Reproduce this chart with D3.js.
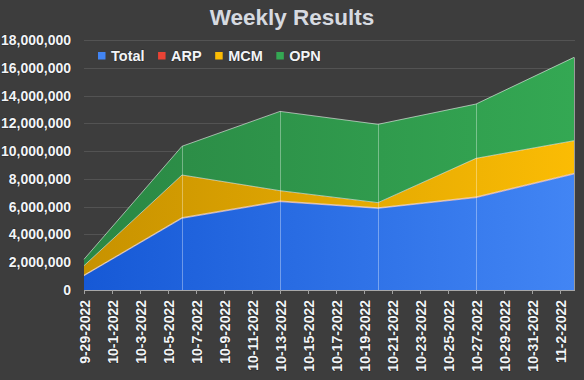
<!DOCTYPE html>
<html><head><meta charset="utf-8">
<script src="https://cdn.jsdelivr.net/npm/d3@7"></script>
<style>
html,body{margin:0;padding:0;background:#3d3d3d;}
svg{display:block;font-family:"Liberation Sans",Arial,sans-serif;}
</style></head>
<body><svg id="chart" width="584" height="380"></svg>
<script>
const dates = ["2022-09-29","2022-10-06","2022-10-13","2022-10-20","2022-10-27","2022-11-03"];
const seriesNames = ["Total","ARP","MCM","OPN"];
const totalValues = [1030000, 5160000, 6360000, 5880000, 6650000, 8350000];
const arpValues   = [40000, 50000, 50000, 40000, 50000, 50000];
const mcmValues   = [680000, 3070000, 740000, 370000, 2780000, 2350000];
const opnValues   = [460000, 2070000, 5710000, 5640000, 3910000, 6000000];
const yTicks = [0,2000000,4000000,6000000,8000000,10000000,12000000,14000000,16000000,18000000];
const tickDates = ["2022-09-29","2022-10-01","2022-10-03","2022-10-05","2022-10-07","2022-10-09","2022-10-11","2022-10-13","2022-10-15","2022-10-17","2022-10-19","2022-10-21","2022-10-23","2022-10-25","2022-10-27","2022-10-29","2022-10-31","2022-11-02"];
const colorsDark  = ["#1659d6","#c9362b","#c79200","#2a8744"];
const colorsLight = ["#4285f4","#ea4335","#fbbc04","#34a853"];

const parse = d3.utcParse("%Y-%m-%d");
const rows = dates.map((d,i)=>({date:parse(d), Total:totalValues[i], ARP:arpValues[i], MCM:mcmValues[i], OPN:opnValues[i]}));

const svg = d3.select("#chart");
const L = 84, R = 574, T = 40, B = 290;
const x = d3.scaleUtc().domain([parse(dates[0]), parse(dates[dates.length-1])]).range([L,R]);
const y = d3.scaleLinear().domain([0,18000000]).range([B,T]);

svg.append("rect").attr("width",584).attr("height",380).attr("fill","#3d3d3d");

const defs = svg.append("defs");
seriesNames.forEach((s,i)=>{
  const g = defs.append("linearGradient").attr("id","g"+i).attr("gradientUnits","userSpaceOnUse")
    .attr("x1",L).attr("x2",R).attr("y1",0).attr("y2",0);
  g.append("stop").attr("offset","0%").attr("stop-color",colorsDark[i]);
  g.append("stop").attr("offset","100%").attr("stop-color",colorsLight[i]);
});

// title
svg.append("text").attr("x",292).attr("y",25).attr("text-anchor","middle")
  .attr("font-size",22.5).attr("font-weight","bold").attr("fill","#d6dae0")
  .text("Weekly Results");

// grid
svg.append("g").selectAll("line").data(yTicks.slice(1)).join("line")
  .attr("x1",L).attr("x2",R+1).attr("y1",d=>Math.round(y(d))+0.5).attr("y2",d=>Math.round(y(d))+0.5)
  .attr("stroke","#535353").attr("stroke-width",1);

// stack
const stack = d3.stack().keys(seriesNames);
const layers = stack(rows);
const area = d3.area().x(d=>x(d.data.date)).y0(d=>y(d[0])).y1(d=>y(d[1]));
const line = d3.line().x(d=>x(d.data.date)).y(d=>y(d[1]));
svg.append("g").selectAll("path").data(layers).join("path")
  .attr("d",area).attr("fill",(d,i)=>`url(#g${i})`);
svg.append("g").selectAll("path").data(layers).join("path")
  .attr("d",line).attr("fill","none").attr("stroke","rgba(255,255,255,0.55)").attr("stroke-width",1);

// vertical lines at data points
const topLayer = layers[layers.length-1];
svg.append("g").selectAll("line").data(topLayer.slice(1,-1)).join("line")
  .attr("x1",d=>Math.round(x(d.data.date))+0.5).attr("x2",d=>Math.round(x(d.data.date))+0.5)
  .attr("y1",d=>y(d[1])).attr("y2",B)
  .attr("stroke","rgba(255,255,255,0.35)");
const lastPt = topLayer[topLayer.length-1];
svg.append("line").attr("x1",R+0.5).attr("x2",R+0.5).attr("y1",y(lastPt[1])).attr("y2",B)
  .attr("stroke","#9a9a9a");

// y axis
const yAxis = svg.append("g").attr("transform",`translate(${L-13},0)`)
  .call(d3.axisLeft(y).tickValues(yTicks).tickSize(0).tickFormat(d3.format(",")));
yAxis.select(".domain").remove();
yAxis.selectAll("text").attr("x",0).attr("font-size",14).attr("font-weight","bold")
  .attr("fill","#f2f4f7").attr("font-family","'Liberation Sans',Arial,sans-serif")
  .attr("stroke","rgba(0,0,0,0.35)").attr("stroke-width",1.2).attr("paint-order","stroke");

// x axis
const fmt = d => `${d.getUTCMonth()+1}-${d.getUTCDate()}-${d.getUTCFullYear()}`;
const xAxis = svg.append("g").attr("transform",`translate(0,${B})`)
  .call(d3.axisBottom(x).tickValues(tickDates.map(parse)).tickSize(4).tickSizeOuter(0).tickFormat(fmt));
xAxis.select(".domain").attr("stroke","#a8a8a8").attr("d",`M${L},0.5H${R+1}`);
xAxis.selectAll(".tick line").attr("stroke","#a0a0a0");
xAxis.selectAll("text").attr("font-size",14).attr("font-weight","bold").attr("fill","#f2f4f7")
  .attr("font-family","'Liberation Sans',Arial,sans-serif")
  .attr("transform","rotate(-90)").attr("text-anchor","end").attr("dy","0.36em").attr("x",-10).attr("y",0)
  .attr("stroke","rgba(0,0,0,0.35)").attr("stroke-width",1.2).attr("paint-order","stroke");

// legend
const lg = svg.append("g");
let lx = 98;
seriesNames.forEach((s,i)=>{
  lg.append("rect").attr("x",lx).attr("y",52).attr("width",7.5).attr("height",7.5).attr("fill",colorsLight[i]);
  const t = lg.append("text").attr("x",lx+13).attr("y",60.5).attr("font-size",14.5).attr("font-weight","bold")
    .attr("fill","#f2f4f7").attr("stroke","rgba(0,0,0,0.35)").attr("stroke-width",1.2).attr("paint-order","stroke").text(s);
  lx = lx + 13 + t.node().getComputedTextLength() + 13.5;
});
</script></body></html>
